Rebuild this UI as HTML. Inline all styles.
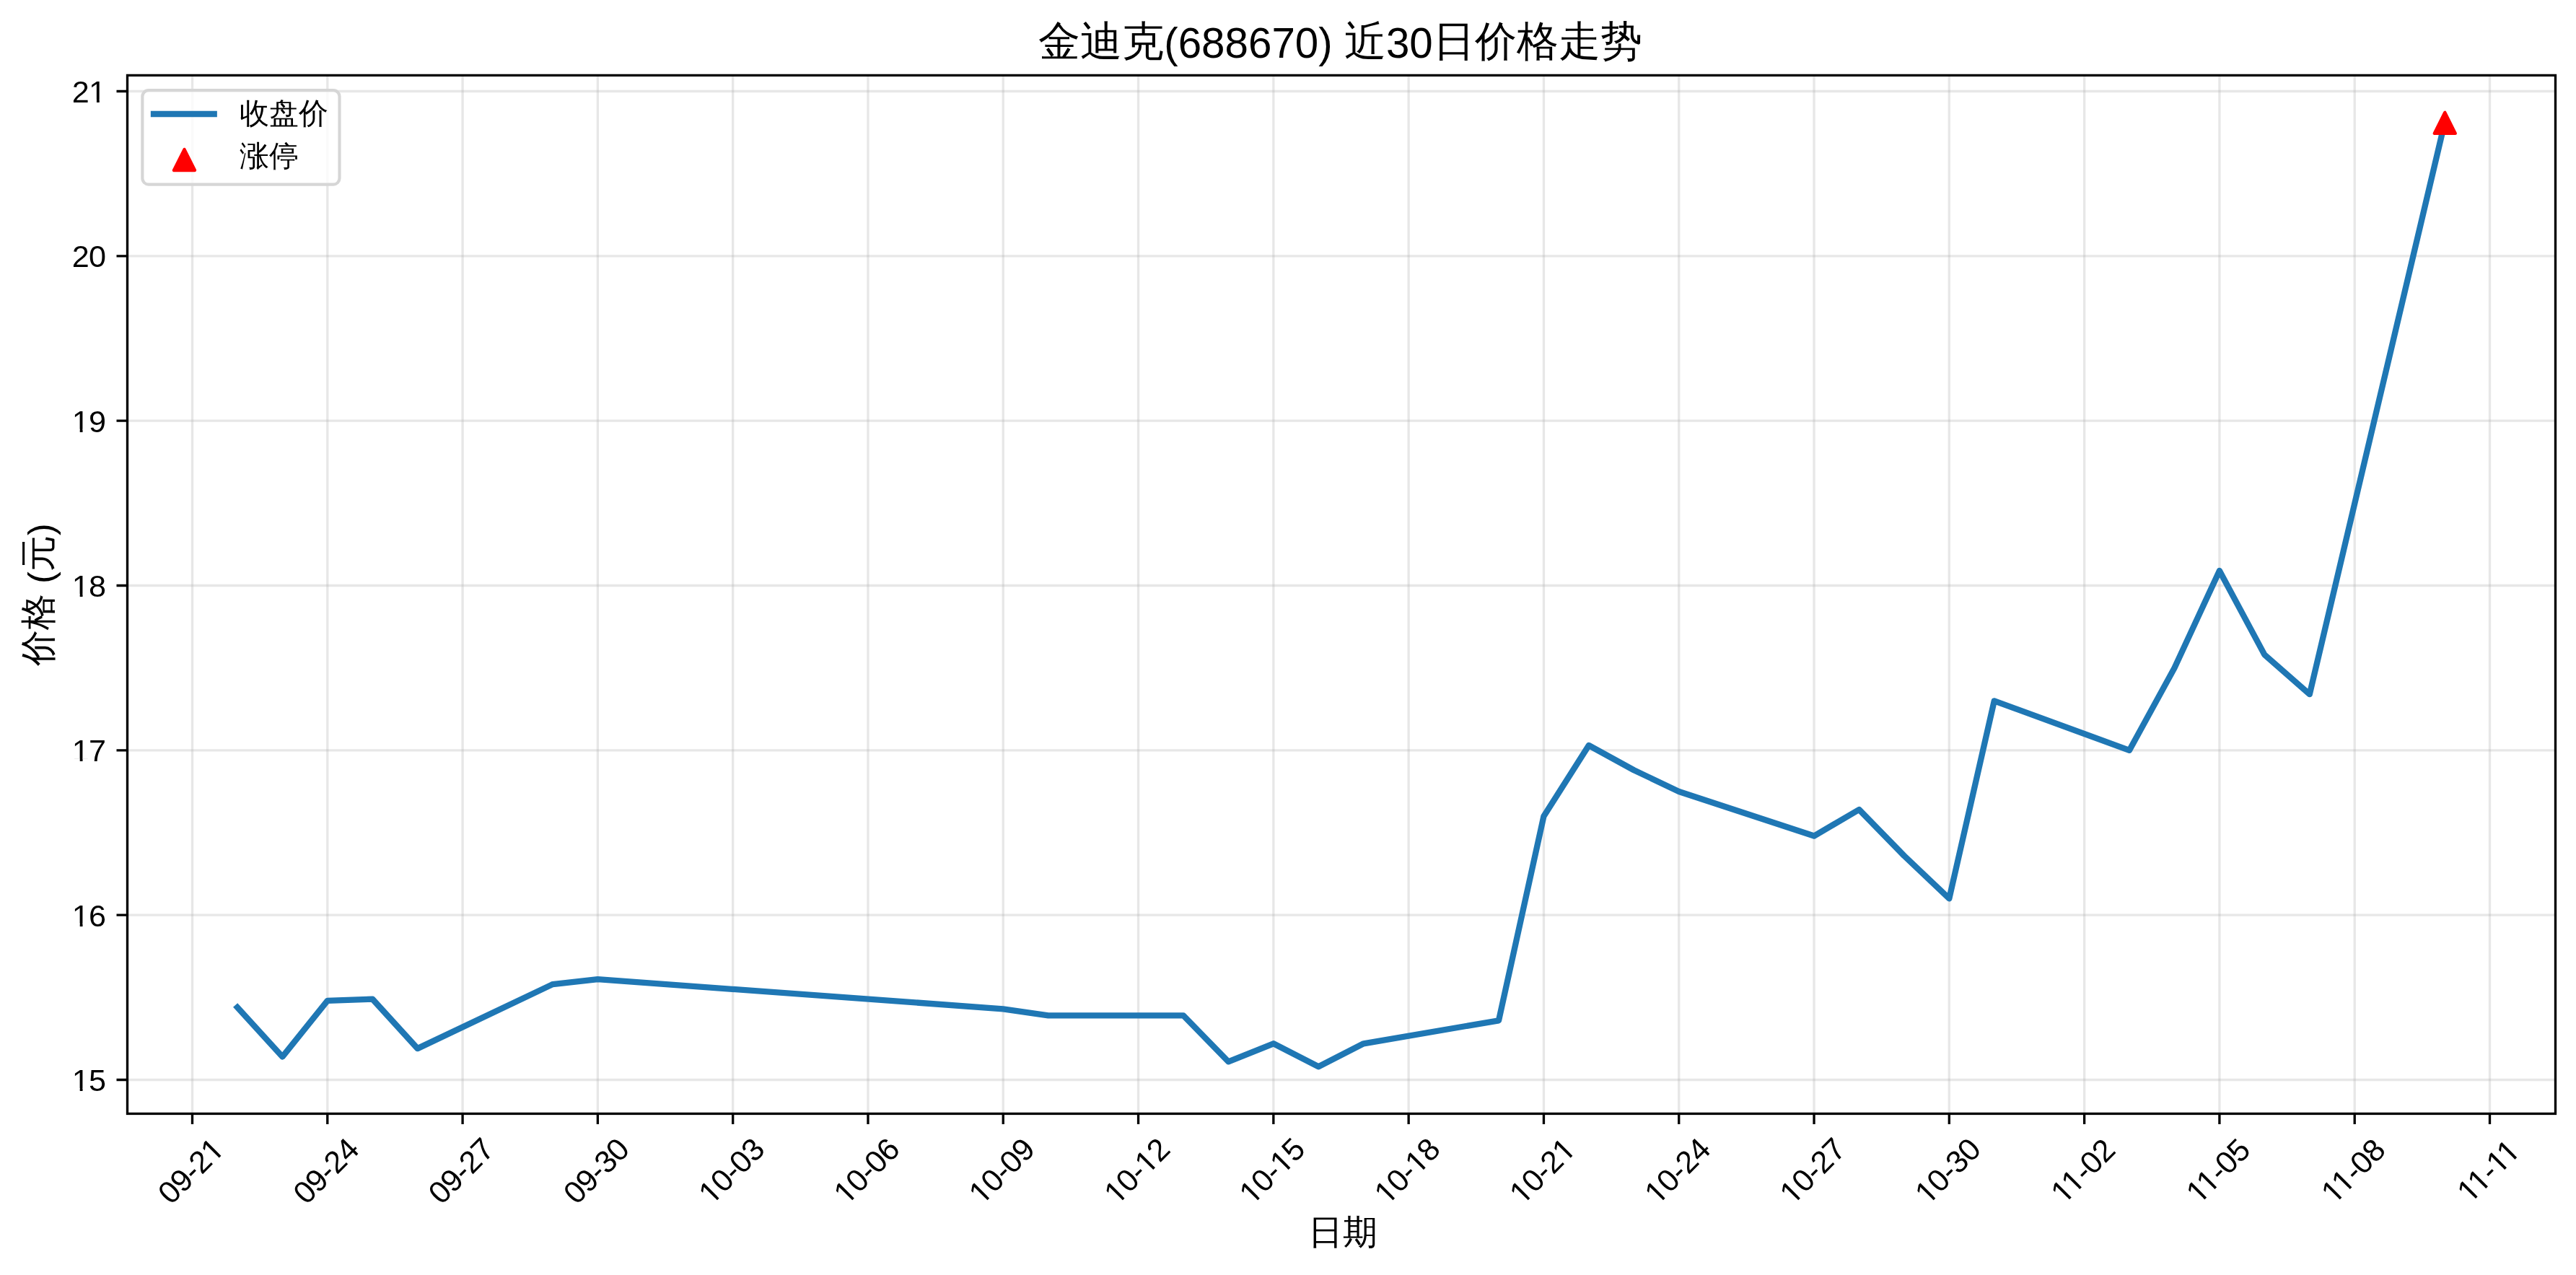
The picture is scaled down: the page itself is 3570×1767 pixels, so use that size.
<!DOCTYPE html><html><head><meta charset="utf-8"><title>金迪克(688670) 近30日价格走势</title><style>html,body{margin:0;padding:0;background:#fff;overflow:hidden}svg{display:block}text{font-family:"Liberation Sans",sans-serif;fill:#000}svg{will-change:transform}</style></head><body>
<svg width="3570" height="1767" viewBox="0 0 3570 1767">
<rect x="0" y="0" width="3570" height="1767" fill="#fff"/>
<line x1="266.50" y1="104.40" x2="266.50" y2="1543.45" stroke="#b0b0b0" stroke-opacity="0.3" stroke-width="3.33"/>
<line x1="453.79" y1="104.40" x2="453.79" y2="1543.45" stroke="#b0b0b0" stroke-opacity="0.3" stroke-width="3.33"/>
<line x1="641.09" y1="104.40" x2="641.09" y2="1543.45" stroke="#b0b0b0" stroke-opacity="0.3" stroke-width="3.33"/>
<line x1="828.38" y1="104.40" x2="828.38" y2="1543.45" stroke="#b0b0b0" stroke-opacity="0.3" stroke-width="3.33"/>
<line x1="1015.68" y1="104.40" x2="1015.68" y2="1543.45" stroke="#b0b0b0" stroke-opacity="0.3" stroke-width="3.33"/>
<line x1="1202.97" y1="104.40" x2="1202.97" y2="1543.45" stroke="#b0b0b0" stroke-opacity="0.3" stroke-width="3.33"/>
<line x1="1390.26" y1="104.40" x2="1390.26" y2="1543.45" stroke="#b0b0b0" stroke-opacity="0.3" stroke-width="3.33"/>
<line x1="1577.56" y1="104.40" x2="1577.56" y2="1543.45" stroke="#b0b0b0" stroke-opacity="0.3" stroke-width="3.33"/>
<line x1="1764.85" y1="104.40" x2="1764.85" y2="1543.45" stroke="#b0b0b0" stroke-opacity="0.3" stroke-width="3.33"/>
<line x1="1952.15" y1="104.40" x2="1952.15" y2="1543.45" stroke="#b0b0b0" stroke-opacity="0.3" stroke-width="3.33"/>
<line x1="2139.44" y1="104.40" x2="2139.44" y2="1543.45" stroke="#b0b0b0" stroke-opacity="0.3" stroke-width="3.33"/>
<line x1="2326.74" y1="104.40" x2="2326.74" y2="1543.45" stroke="#b0b0b0" stroke-opacity="0.3" stroke-width="3.33"/>
<line x1="2514.03" y1="104.40" x2="2514.03" y2="1543.45" stroke="#b0b0b0" stroke-opacity="0.3" stroke-width="3.33"/>
<line x1="2701.32" y1="104.40" x2="2701.32" y2="1543.45" stroke="#b0b0b0" stroke-opacity="0.3" stroke-width="3.33"/>
<line x1="2888.62" y1="104.40" x2="2888.62" y2="1543.45" stroke="#b0b0b0" stroke-opacity="0.3" stroke-width="3.33"/>
<line x1="3075.91" y1="104.40" x2="3075.91" y2="1543.45" stroke="#b0b0b0" stroke-opacity="0.3" stroke-width="3.33"/>
<line x1="3263.21" y1="104.40" x2="3263.21" y2="1543.45" stroke="#b0b0b0" stroke-opacity="0.3" stroke-width="3.33"/>
<line x1="3450.50" y1="104.40" x2="3450.50" y2="1543.45" stroke="#b0b0b0" stroke-opacity="0.3" stroke-width="3.33"/>
<line x1="176.50" y1="1496.50" x2="3541.50" y2="1496.50" stroke="#b0b0b0" stroke-opacity="0.3" stroke-width="3.33"/>
<line x1="176.50" y1="1268.17" x2="3541.50" y2="1268.17" stroke="#b0b0b0" stroke-opacity="0.3" stroke-width="3.33"/>
<line x1="176.50" y1="1039.83" x2="3541.50" y2="1039.83" stroke="#b0b0b0" stroke-opacity="0.3" stroke-width="3.33"/>
<line x1="176.50" y1="811.50" x2="3541.50" y2="811.50" stroke="#b0b0b0" stroke-opacity="0.3" stroke-width="3.33"/>
<line x1="176.50" y1="583.17" x2="3541.50" y2="583.17" stroke="#b0b0b0" stroke-opacity="0.3" stroke-width="3.33"/>
<line x1="176.50" y1="354.83" x2="3541.50" y2="354.83" stroke="#b0b0b0" stroke-opacity="0.3" stroke-width="3.33"/>
<line x1="176.50" y1="126.50" x2="3541.50" y2="126.50" stroke="#b0b0b0" stroke-opacity="0.3" stroke-width="3.33"/>
<polyline points="328.93,1396.03 391.36,1464.53 453.79,1386.90 516.23,1384.62 578.66,1453.12 765.95,1364.07 828.38,1357.22 1390.26,1398.32 1452.70,1407.45 1639.99,1407.45 1702.42,1471.38 1764.85,1446.27 1827.28,1478.23 1889.72,1446.27 2077.01,1414.30 2139.44,1131.17 2201.87,1032.98 2264.30,1067.23 2326.74,1096.92 2514.03,1158.57 2576.46,1122.03 2638.89,1185.97 2701.32,1245.33 2763.75,971.33 2951.05,1039.83 3013.48,925.67 3075.91,790.95 3138.34,907.40 3200.77,962.20 3388.07,169.88" fill="none" stroke="#1f77b4" stroke-width="8.33" stroke-linejoin="round" stroke-linecap="square"/>
<path d="M3388.27 155.78L3373.67 184.98L3402.87 184.98Z" fill="#ff0000" stroke="#ff0000" stroke-width="4.17" stroke-linejoin="round"/>
<rect x="176.5" y="104.4" width="3365.00" height="1439.05" fill="none" stroke="#000" stroke-width="3.33" stroke-linejoin="miter"/>
<path d="M266.50 1543.45V1558.03M453.79 1543.45V1558.03M641.09 1543.45V1558.03M828.38 1543.45V1558.03M1015.68 1543.45V1558.03M1202.97 1543.45V1558.03M1390.26 1543.45V1558.03M1577.56 1543.45V1558.03M1764.85 1543.45V1558.03M1952.15 1543.45V1558.03M2139.44 1543.45V1558.03M2326.74 1543.45V1558.03M2514.03 1543.45V1558.03M2701.32 1543.45V1558.03M2888.62 1543.45V1558.03M3075.91 1543.45V1558.03M3263.21 1543.45V1558.03M3450.50 1543.45V1558.03M176.50 1496.50H161.50M176.50 1268.17H161.50M176.50 1039.83H161.50M176.50 811.50H161.50M176.50 583.17H161.50M176.50 354.83H161.50M176.50 126.50H161.50" stroke="#000" stroke-width="3.33" fill="none"/>
<g transform="translate(146.3 1511.90)"><text x="0" y="0" font-size="43.2" letter-spacing="-0.8" text-anchor="end">15</text><rect x="-44.13" y="-3.93" width="8.54" height="4.93" fill="#fff"/><rect x="-31.77" y="-3.93" width="8.21" height="4.93" fill="#fff"/></g>
<g transform="translate(146.3 1283.57)"><text x="0" y="0" font-size="43.2" letter-spacing="-0.8" text-anchor="end">16</text><rect x="-44.13" y="-3.93" width="8.54" height="4.93" fill="#fff"/><rect x="-31.77" y="-3.93" width="8.21" height="4.93" fill="#fff"/></g>
<g transform="translate(146.3 1055.23)"><text x="0" y="0" font-size="43.2" letter-spacing="-0.8" text-anchor="end">17</text><rect x="-44.13" y="-3.93" width="8.54" height="4.93" fill="#fff"/><rect x="-31.77" y="-3.93" width="8.21" height="4.93" fill="#fff"/></g>
<g transform="translate(146.3 826.90)"><text x="0" y="0" font-size="43.2" letter-spacing="-0.8" text-anchor="end">18</text><rect x="-44.13" y="-3.93" width="8.54" height="4.93" fill="#fff"/><rect x="-31.77" y="-3.93" width="8.21" height="4.93" fill="#fff"/></g>
<g transform="translate(146.3 598.57)"><text x="0" y="0" font-size="43.2" letter-spacing="-0.8" text-anchor="end">19</text><rect x="-44.13" y="-3.93" width="8.54" height="4.93" fill="#fff"/><rect x="-31.77" y="-3.93" width="8.21" height="4.93" fill="#fff"/></g>
<g transform="translate(146.3 370.23)"><text x="0" y="0" font-size="43.2" letter-spacing="-0.8" text-anchor="end">20</text></g>
<g transform="translate(146.3 141.90)"><text x="0" y="0" font-size="43.2" letter-spacing="-0.8" text-anchor="end">21</text><rect x="-20.91" y="-3.93" width="8.54" height="4.93" fill="#fff"/><rect x="-8.54" y="-3.93" width="8.21" height="4.93" fill="#fff"/></g>
<g transform="translate(264.20 1622.90) rotate(-45) translate(0 14.9)"><text x="0" y="0" font-size="43.2" letter-spacing="-0.8" text-anchor="middle">09-21</text><rect x="32.34" y="-3.93" width="8.54" height="4.93" fill="#fff"/><rect x="44.70" y="-3.93" width="8.21" height="4.93" fill="#fff"/></g>
<g transform="translate(451.49 1622.90) rotate(-45) translate(0 14.9)"><text x="0" y="0" font-size="43.2" letter-spacing="-0.8" text-anchor="middle">09-24</text></g>
<g transform="translate(638.79 1622.90) rotate(-45) translate(0 14.9)"><text x="0" y="0" font-size="43.2" letter-spacing="-0.8" text-anchor="middle">09-27</text></g>
<g transform="translate(826.08 1622.90) rotate(-45) translate(0 14.9)"><text x="0" y="0" font-size="43.2" letter-spacing="-0.8" text-anchor="middle">09-30</text></g>
<g transform="translate(1013.38 1622.90) rotate(-45) translate(0 14.9)"><text x="0" y="0" font-size="43.2" letter-spacing="-0.8" text-anchor="middle">10-03</text><rect x="-50.92" y="-3.93" width="8.54" height="4.93" fill="#fff"/><rect x="-38.56" y="-3.93" width="8.21" height="4.93" fill="#fff"/></g>
<g transform="translate(1200.67 1622.90) rotate(-45) translate(0 14.9)"><text x="0" y="0" font-size="43.2" letter-spacing="-0.8" text-anchor="middle">10-06</text><rect x="-50.92" y="-3.93" width="8.54" height="4.93" fill="#fff"/><rect x="-38.56" y="-3.93" width="8.21" height="4.93" fill="#fff"/></g>
<g transform="translate(1387.96 1622.90) rotate(-45) translate(0 14.9)"><text x="0" y="0" font-size="43.2" letter-spacing="-0.8" text-anchor="middle">10-09</text><rect x="-50.92" y="-3.93" width="8.54" height="4.93" fill="#fff"/><rect x="-38.56" y="-3.93" width="8.21" height="4.93" fill="#fff"/></g>
<g transform="translate(1575.26 1622.90) rotate(-45) translate(0 14.9)"><text x="0" y="0" font-size="43.2" letter-spacing="-0.8" text-anchor="middle">10-12</text><rect x="-50.92" y="-3.93" width="8.54" height="4.93" fill="#fff"/><rect x="-38.56" y="-3.93" width="8.21" height="4.93" fill="#fff"/><rect x="9.11" y="-3.93" width="8.54" height="4.93" fill="#fff"/><rect x="21.47" y="-3.93" width="8.21" height="4.93" fill="#fff"/></g>
<g transform="translate(1762.55 1622.90) rotate(-45) translate(0 14.9)"><text x="0" y="0" font-size="43.2" letter-spacing="-0.8" text-anchor="middle">10-15</text><rect x="-50.92" y="-3.93" width="8.54" height="4.93" fill="#fff"/><rect x="-38.56" y="-3.93" width="8.21" height="4.93" fill="#fff"/><rect x="9.11" y="-3.93" width="8.54" height="4.93" fill="#fff"/><rect x="21.47" y="-3.93" width="8.21" height="4.93" fill="#fff"/></g>
<g transform="translate(1949.85 1622.90) rotate(-45) translate(0 14.9)"><text x="0" y="0" font-size="43.2" letter-spacing="-0.8" text-anchor="middle">10-18</text><rect x="-50.92" y="-3.93" width="8.54" height="4.93" fill="#fff"/><rect x="-38.56" y="-3.93" width="8.21" height="4.93" fill="#fff"/><rect x="9.11" y="-3.93" width="8.54" height="4.93" fill="#fff"/><rect x="21.47" y="-3.93" width="8.21" height="4.93" fill="#fff"/></g>
<g transform="translate(2137.14 1622.90) rotate(-45) translate(0 14.9)"><text x="0" y="0" font-size="43.2" letter-spacing="-0.8" text-anchor="middle">10-21</text><rect x="-50.92" y="-3.93" width="8.54" height="4.93" fill="#fff"/><rect x="-38.56" y="-3.93" width="8.21" height="4.93" fill="#fff"/><rect x="32.34" y="-3.93" width="8.54" height="4.93" fill="#fff"/><rect x="44.70" y="-3.93" width="8.21" height="4.93" fill="#fff"/></g>
<g transform="translate(2324.44 1622.90) rotate(-45) translate(0 14.9)"><text x="0" y="0" font-size="43.2" letter-spacing="-0.8" text-anchor="middle">10-24</text><rect x="-50.92" y="-3.93" width="8.54" height="4.93" fill="#fff"/><rect x="-38.56" y="-3.93" width="8.21" height="4.93" fill="#fff"/></g>
<g transform="translate(2511.73 1622.90) rotate(-45) translate(0 14.9)"><text x="0" y="0" font-size="43.2" letter-spacing="-0.8" text-anchor="middle">10-27</text><rect x="-50.92" y="-3.93" width="8.54" height="4.93" fill="#fff"/><rect x="-38.56" y="-3.93" width="8.21" height="4.93" fill="#fff"/></g>
<g transform="translate(2699.02 1622.90) rotate(-45) translate(0 14.9)"><text x="0" y="0" font-size="43.2" letter-spacing="-0.8" text-anchor="middle">10-30</text><rect x="-50.92" y="-3.93" width="8.54" height="4.93" fill="#fff"/><rect x="-38.56" y="-3.93" width="8.21" height="4.93" fill="#fff"/></g>
<g transform="translate(2886.32 1622.90) rotate(-45) translate(0 14.9)"><text x="0" y="0" font-size="43.2" letter-spacing="-0.8" text-anchor="middle">11-02</text><rect x="-49.32" y="-3.93" width="8.54" height="4.93" fill="#fff"/><rect x="-36.96" y="-3.93" width="8.21" height="4.93" fill="#fff"/><rect x="-29.30" y="-3.93" width="8.54" height="4.93" fill="#fff"/><rect x="-16.94" y="-3.93" width="8.21" height="4.93" fill="#fff"/></g>
<g transform="translate(3073.61 1622.90) rotate(-45) translate(0 14.9)"><text x="0" y="0" font-size="43.2" letter-spacing="-0.8" text-anchor="middle">11-05</text><rect x="-49.32" y="-3.93" width="8.54" height="4.93" fill="#fff"/><rect x="-36.96" y="-3.93" width="8.21" height="4.93" fill="#fff"/><rect x="-29.30" y="-3.93" width="8.54" height="4.93" fill="#fff"/><rect x="-16.94" y="-3.93" width="8.21" height="4.93" fill="#fff"/></g>
<g transform="translate(3260.91 1622.90) rotate(-45) translate(0 14.9)"><text x="0" y="0" font-size="43.2" letter-spacing="-0.8" text-anchor="middle">11-08</text><rect x="-49.32" y="-3.93" width="8.54" height="4.93" fill="#fff"/><rect x="-36.96" y="-3.93" width="8.21" height="4.93" fill="#fff"/><rect x="-29.30" y="-3.93" width="8.54" height="4.93" fill="#fff"/><rect x="-16.94" y="-3.93" width="8.21" height="4.93" fill="#fff"/></g>
<g transform="translate(3448.20 1622.90) rotate(-45) translate(0 14.9)"><text x="0" y="0" font-size="43.2" letter-spacing="-0.8" text-anchor="middle">11-11</text><rect x="-47.72" y="-3.93" width="8.54" height="4.93" fill="#fff"/><rect x="-35.36" y="-3.93" width="8.21" height="4.93" fill="#fff"/><rect x="-27.70" y="-3.93" width="8.54" height="4.93" fill="#fff"/><rect x="-15.34" y="-3.93" width="8.21" height="4.93" fill="#fff"/><rect x="9.11" y="-3.93" width="8.54" height="4.93" fill="#fff"/><rect x="21.47" y="-3.93" width="8.21" height="4.93" fill="#fff"/><rect x="29.13" y="-3.93" width="8.54" height="4.93" fill="#fff"/><rect x="41.49" y="-3.93" width="8.21" height="4.93" fill="#fff"/></g>
<rect x="197.35" y="125.2" width="273.15" height="130.4" rx="8.5" ry="8.5" fill="#fff" fill-opacity="0.8" stroke="#d6d6d6" stroke-width="4.17"/>
<path d="M213.0 158.0H296.7" stroke="#1f77b4" stroke-width="8.33" stroke-linecap="square"/>
<path d="M255.50 206.85L240.90 236.05L270.10 236.05Z" fill="#ff0000" stroke="#ff0000" stroke-width="4.17" stroke-linejoin="round"/>
<text x="331.5" y="171.2" font-size="40.5" letter-spacing="0.3">收盘价</text>
<text x="331.5" y="230.2" font-size="40.5" letter-spacing="0.3">涨停</text>
<text x="1857.5" y="80" font-size="58.33" text-anchor="middle"><tspan dy="-3">金迪克</tspan><tspan dy="3">(688670) </tspan><tspan dy="-3">近</tspan><tspan dy="3">30</tspan><tspan dy="-3">日价格走势</tspan></text>
<text x="1861" y="1724.3" font-size="48" letter-spacing="0" text-anchor="middle">日期</text>
<text transform="translate(70 824) rotate(-90)" x="0" y="0" font-size="50" text-anchor="middle">价格 <tspan dy="3.5">(</tspan><tspan dy="-3.5">元</tspan><tspan dy="3.5">)</tspan></text>
</svg></body></html>
